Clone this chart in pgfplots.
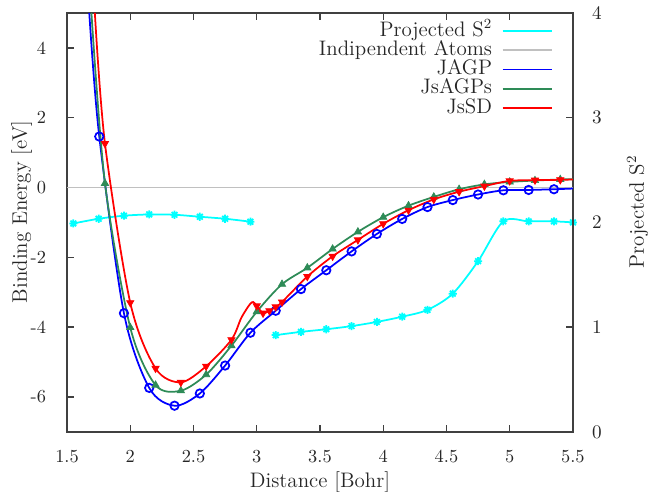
\documentclass[border=0pt]{standalone}
\usepackage{pgfplots}
\pgfplotsset{compat=1.18}
\usetikzlibrary{calc}

\definecolor{sgreen}{RGB}{46,139,87}
\definecolor{lgray}{RGB}{192,192,192}
\definecolor{framegray}{RGB}{64,64,64}
\definecolor{gpcyan}{RGB}{0,255,255}
\definecolor{gpblue}{RGB}{0,0,255}
\definecolor{gpred}{RGB}{255,0,0}

% gnuplot-like star: + and x together
\pgfdeclareplotmark{gpstar}{%
  \pgfpathmoveto{\pgfpoint{-\pgfplotmarksize}{0pt}}\pgfpathlineto{\pgfpoint{\pgfplotmarksize}{0pt}}%
  \pgfpathmoveto{\pgfpoint{0pt}{-\pgfplotmarksize}}\pgfpathlineto{\pgfpoint{0pt}{\pgfplotmarksize}}%
  \pgfpathmoveto{\pgfpoint{-0.7071\pgfplotmarksize}{-0.7071\pgfplotmarksize}}\pgfpathlineto{\pgfpoint{0.7071\pgfplotmarksize}{0.7071\pgfplotmarksize}}%
  \pgfpathmoveto{\pgfpoint{-0.7071\pgfplotmarksize}{0.7071\pgfplotmarksize}}\pgfpathlineto{\pgfpoint{0.7071\pgfplotmarksize}{-0.7071\pgfplotmarksize}}%
  \pgfusepathqstroke}

\pgfplotsset{
  common/.style={
    scale only axis, width=289.1pt, height=239.4pt,
    xmin=1.5, xmax=5.5,
    axis line style={framegray, line width=0.8pt},
    every tick/.style={framegray, line width=0.8pt},
    major tick length=4pt,
    tick label style={font=\fontsize{10.5}{12}\selectfont, text=black!85},
    label style={font=\large, text=black!85},
  },
}

\begin{document}
\begin{tikzpicture}

% right axis: projected S^2
\begin{axis}[common,
    ymin=0, ymax=4, ytick={0,1,2,3,4},
    ytick pos=right, yticklabel pos=right,
    xtick=\empty,
    yticklabel style={xshift=7.5pt},
    ylabel={Projected S$^2$},
    ylabel style={at={(axis description cs:1.128,0.525)}, anchor=center},
  ]
  \addplot[gpcyan, line width=1pt, smooth, mark=gpstar, mark size=2.3pt] coordinates {
    (1.55,1.99) (1.75,2.035) (1.95,2.064) (2.15,2.076) (2.35,2.073)
    (2.55,2.054) (2.75,2.035) (2.95,2.007)};
  \addplot[gpcyan, line width=1pt, smooth, mark=gpstar, mark size=2.3pt] coordinates {
    (3.15,0.924) (3.35,0.955) (3.55,0.98) (3.75,1.01) (3.95,1.05)
    (4.15,1.10) (4.35,1.165) (4.55,1.32) (4.75,1.63) (4.95,2.01)
    (5.15,2.01) (5.35,2.01) (5.5,2.0)};
  \coordinate (bl) at (rel axis cs:0,0);
  \coordinate (tr) at (rel axis cs:1,1);
\end{axis}

% left axis: binding energy
\begin{axis}[common,
    ymin=-7, ymax=5,
    ytick={-6,-4,-2,0,2,4}, yticklabels={-6,-4,-2,0,2,4},
    ytick pos=left,
    xtick={1.5,2,2.5,3,3.5,4,4.5,5,5.5},
    xticklabels={1.5,2,2.5,3,3.5,4,4.5,5,5.5},
    xticklabel style={yshift=-7pt},
    yticklabel style={xshift=-8.5pt},
    xlabel={Distance [Bohr]},
    xlabel style={at={(axis description cs:0.5,-0.1195)}, anchor=center},
    ylabel={Binding Energy [eV]},
    ylabel style={at={(axis description cs:-0.0896,0.525)}, anchor=center},
    legend style={draw=none, fill=none, at={(axis description cs:1,1)},
      anchor=north east, xshift=-11.5pt, yshift=-4.6pt, inner sep=0pt,
      column sep=5pt, font=\large, text=black!85,
      nodes={inner sep=0.5pt, text height=8pt, text depth=2pt}},
    legend cell align=right, legend plot pos=right,
    legend image code/.code={\draw[#1, line width=1pt] (0pt,0pt) -- (28pt,0pt);},
  ]
  \addlegendimage{draw=gpcyan}
  \addlegendentry{Projected S$^2$}
  \addlegendimage{draw=lgray}
  \addlegendentry{Indipendent Atoms}
  \addlegendimage{draw=gpblue}
  \addlegendentry{JAGP}
  \addlegendimage{draw=sgreen}
  \addlegendentry{JsAGPs}
  \addlegendimage{draw=gpred}
  \addlegendentry{JsSD}

  \addplot[forget plot, lgray, line width=1pt] coordinates {(1.5,0) (5.5,0)};

  % JAGP
  \addplot[forget plot, gpblue, line width=1pt, smooth] coordinates {
    (1.676,5) (1.755,1.46) (1.95,-3.6) (2.15,-5.74) (2.35,-6.25) (2.55,-5.9)
    (2.75,-5.1) (2.95,-4.16) (3.15,-3.53) (3.35,-2.91) (3.55,-2.37)
    (3.75,-1.83) (3.95,-1.33) (4.15,-0.9) (4.35,-0.56) (4.55,-0.36)
    (4.75,-0.2) (4.95,-0.08) (5.15,-0.07) (5.35,-0.05) (5.5,-0.03)};
  \addplot[forget plot, gpblue, only marks, mark=o, mark size=2.4pt, line width=1pt] coordinates {
    (1.755,1.46) (1.95,-3.6) (2.15,-5.74) (2.35,-6.25) (2.55,-5.9)
    (2.75,-5.1) (2.95,-4.16) (3.15,-3.53) (3.35,-2.91) (3.55,-2.37)
    (3.75,-1.83) (3.95,-1.33) (4.15,-0.9) (4.35,-0.56) (4.55,-0.36)
    (4.75,-0.2) (4.95,-0.08) (5.15,-0.07) (5.35,-0.05)};

  % JsAGPs
  \addplot[forget plot, sgreen, line width=1pt, smooth] coordinates {
    (1.693,5) (1.8,0.12) (2.0,-4.01) (2.2,-5.66) (2.4,-5.82) (2.6,-5.36)
    (2.8,-4.53) (3.0,-3.56) (3.2,-2.77) (3.4,-2.3) (3.6,-1.76) (3.8,-1.27)
    (4.0,-0.85) (4.2,-0.52) (4.4,-0.27) (4.6,-0.05) (4.8,0.09) (5.0,0.16)
    (5.2,0.2) (5.4,0.23) (5.5,0.24)};
  \addplot[forget plot, sgreen, only marks, mark=triangle*, mark size=2.4pt] coordinates {
    (1.8,0.12) (2.0,-4.01) (2.2,-5.66) (2.4,-5.82) (2.6,-5.36)
    (2.8,-4.53) (3.0,-3.56) (3.2,-2.77) (3.4,-2.3) (3.6,-1.76) (3.8,-1.27)
    (4.0,-0.85) (4.2,-0.52) (4.4,-0.27) (4.6,-0.05) (4.8,0.09) (5.0,0.16)
    (5.2,0.2) (5.4,0.23)};

  % JsSD
  \addplot[forget plot, gpred, line width=1pt, smooth] coordinates {
    (1.72,5) (1.8,1.26) (2.0,-3.3) (2.2,-5.18) (2.4,-5.58) (2.6,-5.12)
    (2.8,-4.36) (2.88,-3.72) (2.96,-3.29) (3.0,-3.39) (3.05,-3.6) (3.1,-3.53)
    (3.15,-3.42) (3.2,-3.28) (3.4,-2.55) (3.6,-1.97) (3.8,-1.5) (4.0,-1.04)
    (4.2,-0.65) (4.4,-0.34) (4.6,-0.12) (4.8,0.04) (5.0,0.19) (5.2,0.21)
    (5.4,0.22) (5.5,0.23)};
  \addplot[forget plot, gpred, only marks, mark=triangle*, mark size=2.4pt,
      mark options={rotate=180}] coordinates {
    (1.8,1.26) (2.0,-3.3) (2.2,-5.18) (2.4,-5.58) (2.6,-5.12)
    (2.8,-4.36) (3.0,-3.39) (3.05,-3.6) (3.1,-3.53)
    (3.15,-3.42) (3.2,-3.28) (3.4,-2.55) (3.6,-1.97) (3.8,-1.5) (4.0,-1.04)
    (4.2,-0.65) (4.4,-0.34) (4.6,-0.12) (4.8,0.04) (5.0,0.19) (5.2,0.21)
    (5.4,0.22)};
\end{axis}

\pgfresetboundingbox
\path[use as bounding box] ($(bl)+(-38.3pt,-34.3pt)$) rectangle ($(tr)+(42.9pt,7.4pt)$);
\end{tikzpicture}
\end{document}
